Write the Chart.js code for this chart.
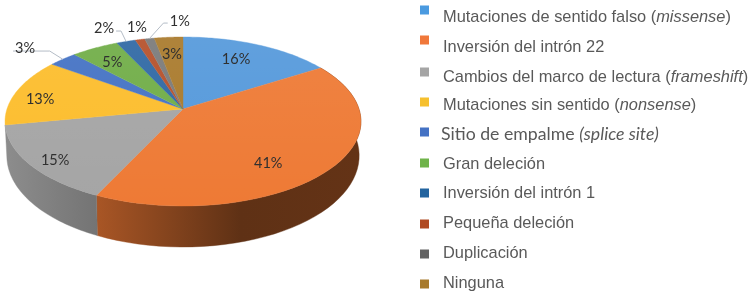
<!DOCTYPE html>
<html><head><meta charset="utf-8">
<script src="https://cdn.jsdelivr.net/npm/chart.js@4"></script>
<style>html,body{margin:0;padding:0;background:#fff}canvas{display:block;filter:blur(0.45px)}</style>
</head><body><canvas id="c" width="749" height="296"></canvas>
<script>
const categories=["Mutaciones de sentido falso","Inversión del intrón 22","Cambios del marco de lectura","Mutaciones sin sentido","Sitio de empalme","Gran deleción","Inversión del intrón 1","Pequeña deleción","Duplicación","Ninguna"];
const categoryNotes=["missense","","frameshift","nonsense","splice site","","","","",""];
const values=[16,41,15,13,3,5,2,1,1,3];
const colors=["#5599db","#ee7a35","#a5a5a5","#fcbd2c","#4472c4","#70ad47","#2f68a4","#b5502a","#7a7a7a","#a97a2c"];
const legendColors=["#4a9ae0","#f0783a","#a5a5a5","#f6c02e","#4472c4","#6fb34a","#23649f","#b04a22","#636363","#a87a2c"];

// perspective disk model
const P={cx:183,cy:109,A:176,a:82.65,k:-0.148};
const project=(phi,r)=>{const u=r*Math.cos(phi),v=r*Math.sin(phi),d=1+P.k*v;return{x:P.cx+P.A*u/d,y:P.cy+P.a*v/d,v};};
const rgb=h=>[1,3,5].map(i=>parseInt(h.slice(i,i+2),16));
const shadeStops=[[8,.85],[100,.70],[190,.51],[240,.40],[360,.42]];
const labelPlace=[[.742,-2.3],[.741,12],[.874,-2.6],[.836,-4],[1.304,-2],[.761,-1],[1.26,-3],[1.2,1.4],[1.263,11.6],[.741,0]];
const leaders={4:{side:-1,dx:-13},6:{side:1,dx:-5,dy:3},8:{side:-1,dx:14,dy:2}};
const legendY=[10,40,72,102,132,163,193,224,254,284];
const legendTextY=[17,47,77,105,134,164,193,223,253,283];

const scene={id:'scene',
 beforeDatasetsDraw(chart){
  const ctx=chart.ctx,arcs=chart.getDatasetMeta(0).data;
  const N=48;
  const edge=(a,b)=>{const o=[];for(let i=0;i<=N;i++)o.push(project(a+(b-a)*i/N,1));return o;};
  // side wall
  arcs.forEach((el,i)=>{
   const pts=edge(el.startAngle,el.endAngle);
   if(pts.every(p=>p.v<0.25))return;
   const g=ctx.createLinearGradient(0,0,749,0),c=rgb(colors[i]);
   shadeStops.forEach(([x,f])=>g.addColorStop(x/749,`rgb(${c.map(n=>Math.round(n*f)).join(',')})`));
   ctx.beginPath();
   pts.forEach((p,j)=>j?ctx.lineTo(p.x,p.y):ctx.moveTo(p.x,p.y));
   pts.slice().reverse().forEach(p=>ctx.lineTo(P.cx+(p.x-P.cx)*.99,p.y+33+8*p.v));
   ctx.closePath();ctx.fillStyle=g;ctx.fill();ctx.strokeStyle=g;ctx.lineWidth=.4;ctx.stroke();
  });
  // top surface
  arcs.forEach((el,i)=>{
   ctx.beginPath();ctx.moveTo(P.cx,P.cy);
   edge(el.startAngle,el.endAngle).forEach(p=>ctx.lineTo(p.x,p.y));
   ctx.closePath();ctx.fillStyle=colors[i];ctx.fill();ctx.strokeStyle=colors[i];ctx.lineWidth=.4;ctx.stroke();
  });
  // soft sheen
  const s=ctx.createLinearGradient(0,37,0,206);
  s.addColorStop(0,'rgba(255,255,255,.07)');s.addColorStop(1,'rgba(255,255,255,0)');
  ctx.beginPath();edge(0,Math.PI*2).forEach((p,j)=>j?ctx.lineTo(p.x,p.y):ctx.moveTo(p.x,p.y));
  ctx.closePath();ctx.fillStyle=s;ctx.fill();
  return false;
 },
 afterDraw(chart){
  const ctx=chart.ctx,arcs=chart.getDatasetMeta(0).data;
  ctx.save();
  ctx.textBaseline='middle';ctx.textAlign='center';
  arcs.forEach((el,i)=>{
   const [r,off]=labelPlace[i];
   const mid=(el.startAngle+el.endAngle)/2;
   const p=project(mid+off*Math.PI/180,r);
   const L=leaders[i];
   ctx.font='14.5px Lato';
   if(L){
    const rim=project(mid,1);
    const w=ctx.measureText(values[i]+'%').width/2+2;
    ctx.beginPath();ctx.moveTo(rim.x,rim.y);
    const ey=p.y+(L.dy||3);
    ctx.lineTo(rim.x+L.dx,ey);ctx.lineTo(p.x+L.side*w,ey);
    ctx.strokeStyle='#b4bcc6';ctx.lineWidth=1;ctx.stroke();
   }
   ctx.fillStyle='#303030';
   ctx.fillText(values[i]+'%',p.x,p.y);
  });
  // legend
  ctx.textAlign='left';
  categories.forEach((name,i)=>{
   ctx.fillStyle=legendColors[i];ctx.fillRect(420,legendY[i]-4.5,9,9);
   const note=categoryNotes[i],alt=i===4;
   const fam=alt?'Lato':'"Liberation Sans"',size=alt?17.7:16.4;
   let x=alt?441:443;const y=legendTextY[i];
   ctx.fillStyle='#595959';
   const seg=(t,it)=>{ctx.font=(it?'italic ':'')+size+'px '+fam;ctx.fillText(t,x,y);x+=ctx.measureText(t).width;};
   if(note){seg(name+' ',false);
     if(alt){seg('(',true);seg(note,true);seg(')',true);}
     else{seg('(',false);seg(note,true);seg(')',false);}
   }else seg(name,false);
  });
  ctx.restore();
 }
};
new Chart(document.getElementById('c'),{type:'pie',
 data:{labels:categories,datasets:[{data:values,backgroundColor:colors,borderWidth:0}]},
 options:{responsive:false,animation:false,devicePixelRatio:1,events:[],
  plugins:{legend:{display:false},tooltip:{enabled:false},title:{display:false}}},
 plugins:[scene]});
</script></body></html>
